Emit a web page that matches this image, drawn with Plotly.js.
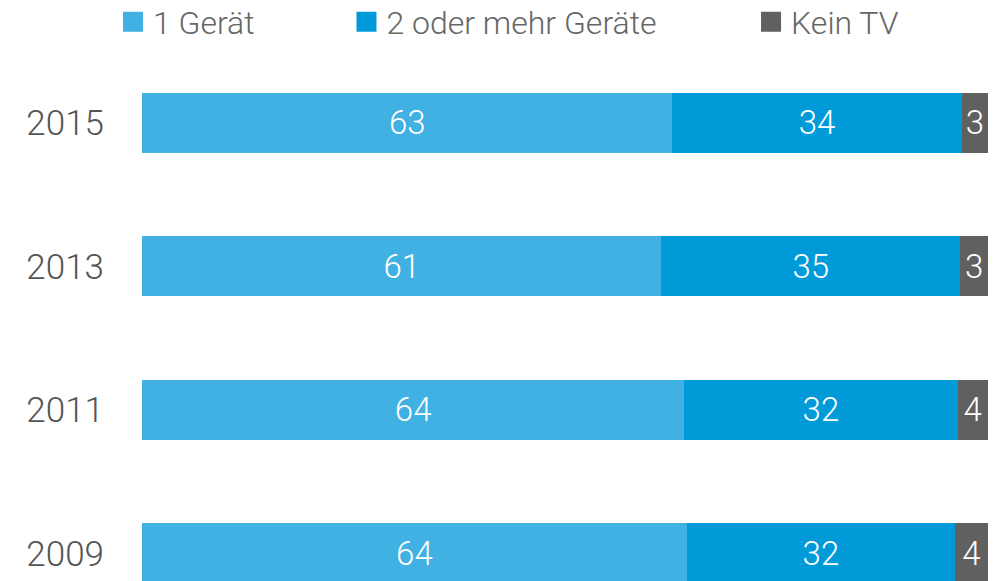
<!DOCTYPE html>
<html>
<head>
<meta charset="utf-8">
<script src="https://cdn.plot.ly/plotly-3.0.1.min.js"></script>
<style>html,body{margin:0;padding:0;background:#fff;}#chart{width:998px;height:581px;}</style>
</head>
<body>
<div id="chart"></div>
<script>
const years = ['2009', '2011', '2013', '2015'];
const seriesNames = ['1 Gerät', '2 oder mehr Geräte', 'Kein TV'];
// shares in percent (labels show rounded values)
const einGeraet = [64.4, 64.1, 61.4, 62.7];
const mehrGeraete = [31.7, 32.3, 35.3, 34.2];
const keinTV = [3.9, 3.6, 3.3, 3.1];
const colors = ['#41b1e3', '#009ad9', '#606060'];

const FONT = 'Roboto, "DejaVu Sans", sans-serif';
const values = [einGeraet, mehrGeraete, keinTV];
const legendIds = ['legend', 'legend2', 'legend3'];

const traces = [];
values.forEach((vals, i) => {
  traces.push({
    type: 'bar',
    orientation: 'h',
    y: years,
    x: vals,
    name: seriesNames[i],
    marker: {color: colors[i]},
    width: 0.418,
    texttemplate: '%{x:.0f}',
    textposition: 'inside',
    insidetextanchor: 'middle',
    constraintext: 'none',
    textfont: {color: '#ffffff', size: 33, family: FONT, weight: 300},
    hoverinfo: 'skip',
    showlegend: false,
    cliponaxis: true
  });
});
// legend-only entries
values.forEach((vals, i) => {
  traces.push({
    type: 'scatter',
    mode: 'markers',
    x: [null],
    y: [null],
    name: seriesNames[i],
    marker: {color: colors[i], symbol: 'square', size: 16, line: {color: colors[i], width: 4}},
    showlegend: true,
    legend: legendIds[i],
    hoverinfo: 'skip'
  });
});

const legendBase = {
  orientation: 'h',
  yanchor: 'middle',
  y: 1.0547,
  xanchor: 'left',
  bgcolor: 'rgba(0,0,0,0)',
  borderwidth: 0,
  font: {family: FONT, size: 32, color: '#666666', weight: 300},
  itemclick: false,
  itemdoubleclick: false
};

const layout = {
  width: 998,
  height: 581,
  margin: {l: 142, r: 10, t: 51, b: 0, pad: 0, autoexpand: false},
  paper_bgcolor: '#ffffff',
  plot_bgcolor: '#ffffff',
  barmode: 'stack',
  font: {family: FONT},
  xaxis: {
    range: [0, 100],
    visible: false,
    fixedrange: true
  },
  yaxis: {
    type: 'category',
    categoryorder: 'array',
    categoryarray: years,
    range: [-0.193, 3.5],
    showgrid: false,
    zeroline: false,
    showline: false,
    ticks: '',
    ticklabelstandoff: 37,
    tickfont: {family: FONT, size: 35, color: '#555555', weight: 300},
    fixedrange: true
  },
  legend: Object.assign({}, legendBase, {x: -0.0343}),
  legend2: Object.assign({}, legendBase, {x: 0.2417}),
  legend3: Object.assign({}, legendBase, {x: 0.7199})
};

Plotly.newPlot('chart', traces, layout, {displayModeBar: false, staticPlot: true});
</script>
</body>
</html>
